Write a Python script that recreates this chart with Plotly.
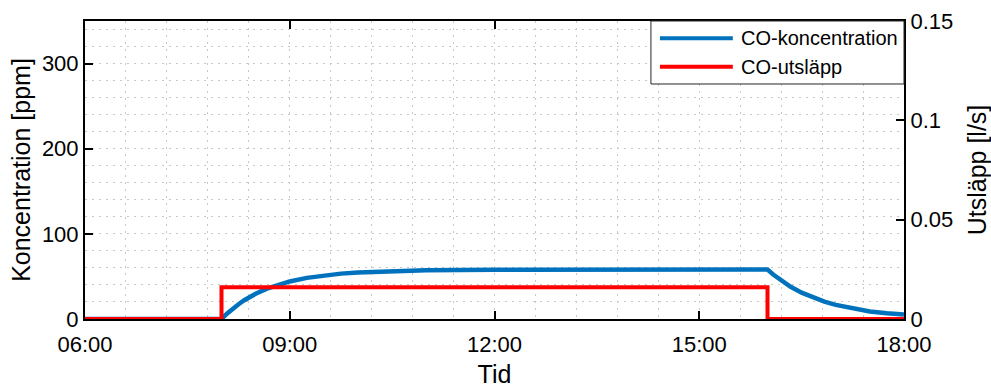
import plotly.graph_objects as go

DAY = "2024-01-01 "

# CO-koncentration [ppm] over the day
conc_time = ["06:00", "08:00", "08:05", "08:10", "08:15", "08:20", "08:25", "08:30",
             "08:40", "08:50", "09:00", "09:15", "09:30", "09:45", "10:00", "10:30",
             "11:00", "12:00", "13:00", "14:00", "15:00", "16:00", "16:05", "16:10",
             "16:15", "16:20", "16:30", "16:40", "16:50", "17:00", "17:15", "17:30",
             "17:45", "18:00"]
conc_ppm = [0, 0, 6.5, 12.3, 17.4, 22.0, 26.1, 29.6,
            35.6, 40.4, 44.1, 48.3, 51.2, 53.3, 54.7, 56.4,
            57.2, 57.8, 58, 58, 58, 58, 52.3, 47.1,
            42.4, 38.2, 31.0, 25.2, 20.5, 16.6, 12.2, 8.9,
            6.8, 5.2]

# CO-utsläpp [l/s], stepwise
emis_time = ["06:00", "08:00", "16:00", "18:00"]
emis_ls = [0, 0.016, 0, 0]

x_ticks = ["06:00", "09:00", "12:00", "15:00", "18:00"]
series_names = ["CO-koncentration", "CO-utsläpp"]
series_colors = ["#0072BD", "#FF0000"]

FONT = "Liberation Sans, Arial, sans-serif"
GRID = "#c8c8c8"
DOTS = "2px,5px"
TICK_SIZE = 22
TITLE_SIZE = 25

fig = go.Figure()
fig.add_trace(go.Scatter(
    x=[DAY + t for t in conc_time], y=conc_ppm, mode="lines",
    line=dict(color=series_colors[0], width=4.5), name=series_names[0],
    yaxis="y", showlegend=False))
fig.add_trace(go.Scatter(
    x=[DAY + t for t in emis_time], y=emis_ls, mode="lines",
    line=dict(color=series_colors[1], width=4, shape="hv"), name=series_names[1],
    yaxis="y2", showlegend=False))

axis_common = dict(
    ticks="inside", ticklen=8, tickwidth=2, tickcolor="black",
    showline=True, linecolor="black", linewidth=2, zeroline=False,
    automargin=False,
    tickfont=dict(size=TICK_SIZE, color="black", family=FONT),
)

fig.update_layout(
    width=991, height=388,
    margin=dict(l=85, r=87, t=21, b=69),
    paper_bgcolor="white", plot_bgcolor="white",
    font=dict(family=FONT, size=TICK_SIZE, color="black"),
    showlegend=False,
    xaxis=dict(
        type="date",
        range=[DAY + "06:00", DAY + "18:00"],
        tickvals=[DAY + t for t in x_ticks], ticktext=x_ticks,
        ticklabelstandoff=5,
        mirror="ticks", layer="below traces",
        showgrid=True, gridcolor=GRID, griddash=DOTS, gridwidth=1,
        minor=dict(dtick=36 * 60 * 1000, tick0=DAY + "06:00", showgrid=True,
                   gridcolor=GRID, griddash=DOTS, gridwidth=1, ticks=""),
        title=dict(text="Tid", font=dict(size=TITLE_SIZE), standoff=20),
        **axis_common,
    ),
    yaxis=dict(
        range=[0, 350], tickvals=[0, 100, 200, 300],
        layer="below traces",
        showgrid=True, gridcolor=GRID, griddash=DOTS, gridwidth=1,
        minor=dict(dtick=20, tick0=0, showgrid=True, gridcolor=GRID,
                   griddash=DOTS, gridwidth=1, ticks=""),
        title=dict(text="Koncentration [ppm]", font=dict(size=TITLE_SIZE), standoff=4),
        **axis_common,
    ),
    yaxis2=dict(
        overlaying="y", side="right", anchor="x",
        range=[0, 0.15], tickvals=[0, 0.05, 0.1, 0.15],
        ticktext=["0", "0.05", "0.1", "0.15"],
        showgrid=False, layer="below traces",
        title=dict(text="Utsläpp [l/s]", font=dict(size=TITLE_SIZE), standoff=20),
        **axis_common,
    ),
)

# Legend box in the upper right corner of the axes
lx0, lx1, ly0, ly1 = 0.691, 1.0, 0.7886, 1.0
fig.add_shape(type="rect", xref="paper", yref="paper",
              x0=lx0, x1=lx1, y0=ly0, y1=ly1,
              fillcolor="white", line=dict(color="#262626", width=1))
for name, color, yy in zip(series_names, series_colors, [0.942, 0.8466]):
    fig.add_shape(type="line", xref="paper", yref="paper",
                  x0=0.702, x1=0.791, y0=yy, y1=yy,
                  line=dict(color=color, width=4))
    fig.add_annotation(xref="paper", yref="paper", x=0.7985, y=yy,
                       text=name, showarrow=False, xanchor="left", yanchor="middle",
                       font=dict(size=20, color="black", family=FONT))

fig.write_html("out.html")
